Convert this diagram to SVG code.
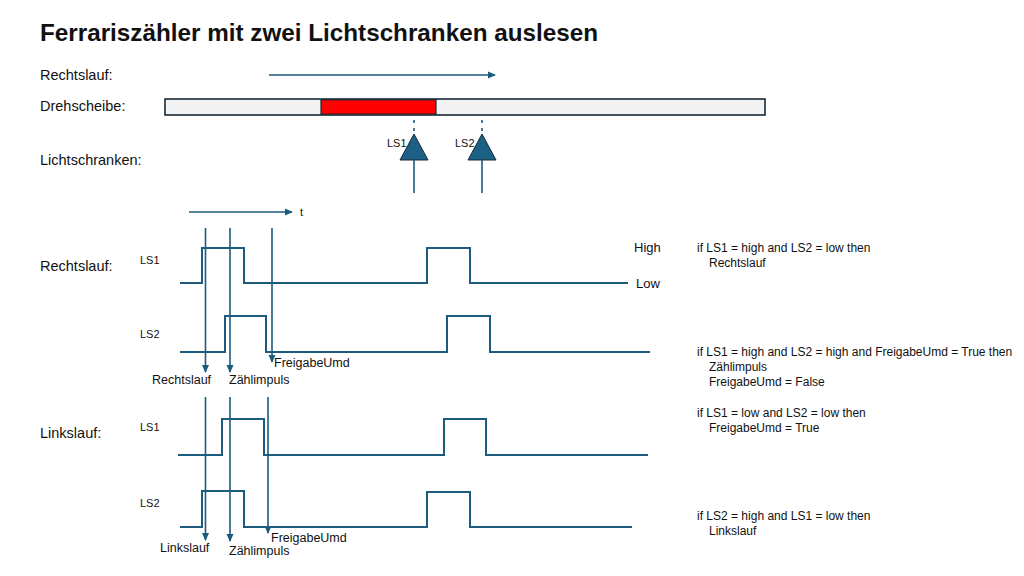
<svg xmlns="http://www.w3.org/2000/svg" width="1024" height="576" viewBox="0 0 1024 576">
<style>
text{font-family:"Liberation Sans",Arial,sans-serif;fill:#111}
.title{font-size:24px;font-weight:bold}
.lbl{font-size:14.5px}
.sm{font-size:11px}
.rt{font-size:12px}
.al{font-size:12.5px}
.sig{fill:none;stroke:#1c5a7e;stroke-width:2;stroke-linejoin:miter}
.arr{fill:none;stroke:#1c5a7e;stroke-width:1.6}
</style>
<defs>
<marker id="ah" markerWidth="8" markerHeight="8" refX="7" refY="4" orient="auto" markerUnits="userSpaceOnUse">
<path d="M0,0.5 L8,4 L0,7.5 Z" fill="#1c5a7e"/>
</marker>
</defs>
<rect width="1024" height="576" fill="#fff"/>
<text class="title" x="40" y="41" textLength="558" lengthAdjust="spacingAndGlyphs">Ferrariszähler mit zwei Lichtschranken auslesen</text>
<g id="labels-left">
<text class="lbl" x="40" y="80">Rechtslauf:</text>
<text class="lbl" x="40" y="111">Drehscheibe:</text>
<text class="lbl" x="40" y="165">Lichtschranken:</text>
<text class="lbl" x="40" y="271">Rechtslauf:</text>
<text class="lbl" x="40" y="438">Linkslauf:</text>
</g>
<g id="drehscheibe">
<rect x="165" y="99" width="600" height="16" fill="#f2f2f2" stroke="#172836" stroke-width="1.6"/>
<rect x="321" y="99.8" width="115" height="14.4" fill="#ff0000" stroke="#172836" stroke-width="1.2"/>
</g>
<g id="ls1-sensor">
<line x1="414" y1="120" x2="414" y2="134" stroke="#1c5a7e" stroke-width="1.6" stroke-dasharray="3,5"/>
<path d="M414,134 L428,160 L400,160 Z" fill="#1c6185" stroke="#172836" stroke-width="1"/>
<line x1="414" y1="160" x2="414" y2="193" stroke="#1c5a7e" stroke-width="1.6"/>
<text class="sm" x="387" y="147">LS1</text>
</g>
<g id="ls2-sensor">
<line x1="482" y1="120" x2="482" y2="134" stroke="#1c5a7e" stroke-width="1.6" stroke-dasharray="3,5"/>
<path d="M482,134 L496,160 L468,160 Z" fill="#1c6185" stroke="#172836" stroke-width="1"/>
<line x1="482" y1="160" x2="482" y2="193" stroke="#1c5a7e" stroke-width="1.6"/>
<text class="sm" x="455" y="147">LS2</text>
</g>
<g id="connectors">
<line class="arr" x1="269" y1="75" x2="495" y2="75" marker-end="url(#ah)"/>
<line class="arr" x1="189" y1="212" x2="292" y2="212" marker-end="url(#ah)"/>
<line class="arr" x1="205.5" y1="228" x2="205.5" y2="372" marker-end="url(#ah)"/>
<line class="arr" x1="230" y1="228" x2="230" y2="372" marker-end="url(#ah)"/>
<line class="arr" x1="272" y1="228" x2="272" y2="362" marker-end="url(#ah)"/>
<line class="arr" x1="205.5" y1="397" x2="205.5" y2="540" marker-end="url(#ah)"/>
<line class="arr" x1="230" y1="397" x2="230" y2="541" marker-end="url(#ah)"/>
<line class="arr" x1="268" y1="397" x2="268" y2="533" marker-end="url(#ah)"/>
</g>
<text class="sm" x="300" y="216">t</text>
<g id="rechtslauf-signals">
<text class="sm" x="140" y="264">LS1</text>
<polyline class="sig" points="180,283 202,283 202,248 244,248 244,283 427,283 427,248 470,248 470,283 628,283"/>
<text class="sm" x="140" y="338">LS2</text>
<polyline class="sig" points="180,352 225,352 225,316 266,316 266,352 447,352 447,316 490,316 490,352 650,352"/>
<text class="lbl" x="634" y="252" style="font-size:13px">High</text>
<text class="lbl" x="636" y="288" style="font-size:13px">Low</text>
<text class="al" x="152" y="384">Rechtslauf</text>
<text class="al" x="229" y="384">Zählimpuls</text>
<text class="al" x="274" y="367">FreigabeUmd</text>
</g>
<g id="linkslauf-signals">
<text class="sm" x="140" y="431">LS1</text>
<polyline class="sig" points="178,455 222,455 222,419 264,419 264,455 444,455 444,419 486,419 486,455 648,455"/>
<text class="sm" x="140" y="507">LS2</text>
<polyline class="sig" points="180,527 202,527 202,491 244,491 244,527 427,527 427,492 470,492 470,527 632,527"/>
<text class="al" x="160" y="552">Linkslauf</text>
<text class="al" x="229" y="555">Zählimpuls</text>
<text class="al" x="271" y="542">FreigabeUmd</text>
</g>
<g id="rules">
<text class="rt" x="697" y="252">if LS1 = high and LS2 = low then</text>
<text class="rt" x="709" y="267">Rechtslauf</text>
<text class="rt" x="697" y="356">if LS1 = high and LS2 = high and FreigabeUmd = True then</text>
<text class="rt" x="709" y="371">Zählimpuls</text>
<text class="rt" x="709" y="386">FreigabeUmd = False</text>
<text class="rt" x="697" y="417">if LS1 = low and LS2 = low then</text>
<text class="rt" x="709" y="432">FreigabeUmd = True</text>
<text class="rt" x="697" y="520">if LS2 = high and LS1 = low then</text>
<text class="rt" x="709" y="535">Linkslauf</text>
</g>
</svg>
